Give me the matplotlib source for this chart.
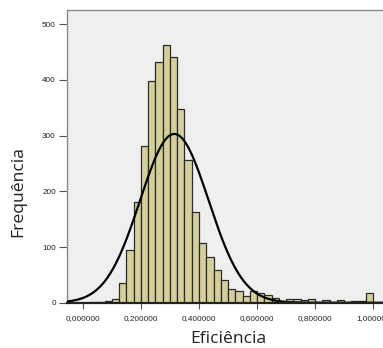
import matplotlib
matplotlib.use("Agg")
import matplotlib.pyplot as plt
import numpy as np
from matplotlib.ticker import FuncFormatter

# histogram of efficiency scores, bins of width 0.025 from 0 to 1
bin_width = 0.025
bin_starts = np.arange(0.0, 1.0, bin_width)
counts = [
    0, 1, 1, 4, 7, 36, 94, 180, 282, 397,
    432, 463, 441, 348, 256, 163, 108, 82, 59, 41,
    25, 21, 12, 21, 17, 14, 8, 4, 6, 6,
    5, 7, 2, 5, 2, 5, 2, 4, 4, 18,
]

# fitted normal curve parameters
fit_mean = 0.315
fit_std = 0.118

x_ticks = [0.0, 0.2, 0.4, 0.6, 0.8, 1.0]
y_ticks = [0, 100, 200, 300, 400, 500]

bar_color = "#d5d09b"
bg_color = "#efefef"
frame_color = "#8a8a8a"

fig = plt.figure(figsize=(3.83, 3.48), dpi=100)
ax = fig.add_axes([0.175, 0.130, 0.86, 0.841])
ax.set_facecolor(bg_color)

ax.bar(bin_starts, counts, width=bin_width, align="edge",
       color=bar_color, edgecolor="#2b2b2b", linewidth=0.9, zorder=2)

n_total = sum(counts)
xs = np.linspace(-0.06, 1.1, 400)
ys = n_total * bin_width / (fit_std * np.sqrt(2 * np.pi)) * np.exp(-0.5 * ((xs - fit_mean) / fit_std) ** 2)
ax.plot(xs, ys, color="black", linewidth=1.6, zorder=3)

ax.set_xlim(-0.0546, 1.08)
ax.set_ylim(0, 525)

ax.set_xticks(x_ticks)
ax.set_yticks(y_ticks)
ax.xaxis.set_major_formatter(FuncFormatter(lambda v, p: f"{v:.6f}".replace(".", ",")))
ax.tick_params(axis="both", direction="out", colors="#555555", labelcolor="#222222",
               labelsize=5.9, width=0.8)
ax.tick_params(axis="y", length=6, pad=2)
ax.tick_params(axis="x", length=4.5, pad=4)
for lab in ax.get_xticklabels() + ax.get_yticklabels():
    lab.set_fontfamily("Liberation Sans")

for side in ("top", "left", "right"):
    ax.spines[side].set_color(frame_color)
    ax.spines[side].set_linewidth(1.0)
ax.spines["bottom"].set_color("#222222")
ax.spines["bottom"].set_linewidth(1.6)
ax.spines["bottom"].set_zorder(4)

fig.text(228 / 383, 1 - 339 / 348, "Eficiência", ha="center", va="center",
         fontsize=12.6, family="Open Sans", color="#222222")
fig.text(18 / 383, 1 - 192 / 348, "Frequência", ha="center", va="center",
         rotation=90, fontsize=12.6, family="Open Sans", color="#222222")

fig.savefig("out.png", dpi=100)
